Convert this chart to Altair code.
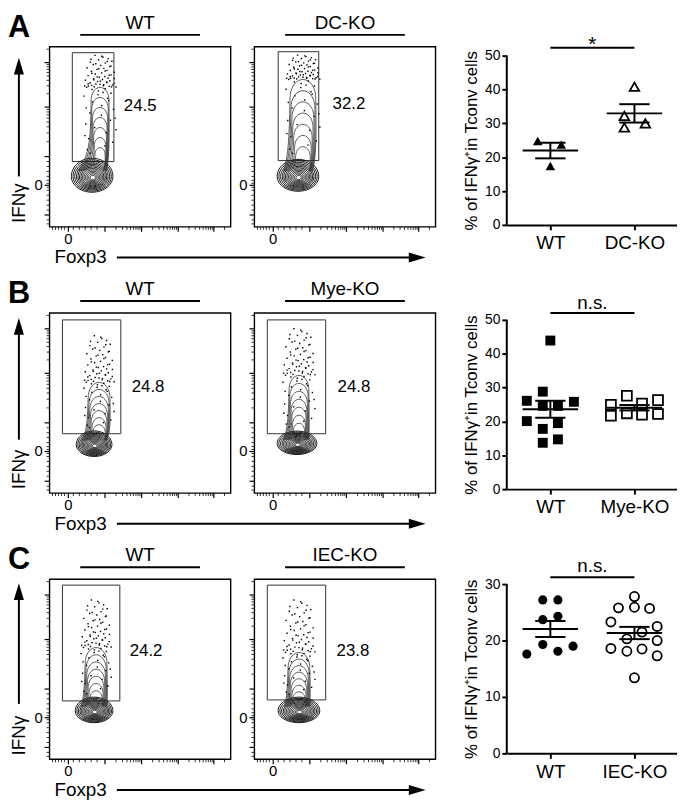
import numpy as np
import pandas as pd
import altair as alt

FONT = "Liberation Sans"

# ---------------- scatter data: % of IFNγ+ in Tconv cells ----------------
A_WT = [24.8, 23.7, 17.4]
A_KO = [40.8, 32.2, 28.8, 30.0]
B_WT = [43.9, 28.8, 26.1, 25.8, 24.6, 24.6, 20.1, 19.5, 17.8, 14.7, 13.7]
B_KO = [27.6, 24.9, 25.3, 26.3, 21.7, 22.4, 22.0, 22.2]
C_WT = [27.2, 27.2, 23.7, 24.3, 17.6, 19.3, 18.1, 19.0]
C_KO = [27.8, 25.8, 25.9, 25.7, 23.3, 22.5, 21.5, 20.3, 20.0, 18.6, 18.1, 18.5, 17.3, 13.4]
# horizontal scatter of the symbols inside each column (group-spacing units)
A_WT_J = [-0.15, 0.13, 0.0]
A_KO_J = [0.0, -0.12, -0.12, 0.13]
B_WT_J = [0.0, -0.09, -0.28, 0.28, -0.09, 0.09, -0.28, 0.09, -0.09, 0.09, -0.09]
B_KO_J = [-0.09, -0.28, 0.09, 0.28, -0.28, -0.09, 0.09, 0.28]
C_WT_J = [-0.09, 0.09, -0.09, 0.09, -0.28, -0.09, 0.09, 0.27]
C_KO_J = [0.0, -0.19, 0.0, 0.18, -0.28, 0.27, 0.09, -0.09, 0.27, -0.28, -0.09, 0.09, 0.27, 0.0]

# ---------------- flow cytometry panels (panel units, y from top) ----------------
PCT = ["24.5", "32.2", "24.8", "24.8", "24.2", "23.8"]
GATE_X1 = [23, 24, 13, 13, 13, 13]
GATE_X2 = [65, 65, 72, 72, 71, 72]
GATE_TOP = [6, 5, 7, 7, 6, 6]
GATE_BOT = [116, 115, 122, 122, 123, 122]
BLOB_CX = [43, 44, 45, 43, 45, 45]
BLOB_CY = [131, 131, 133, 132, 133, 133]
BLOB_RX = [21, 21, 18, 20, 19, 21]
BLOB_RY = [16, 15, 12, 11, 12, 12]
TAIL_X = [51, 49, 50, 45, 47, 45]
TAIL_TOP = [41, 33, 70, 63, 69, 74]
TAIL_W = [9, 13, 11, 10, 11, 11]
DOTS_TOP = [8, 8, 22, 15, 20, 20]
DOTS_SPREAD = [17, 18, 16, 17, 16, 17]
PCT_X = [75, 79, 83, 84, 81, 83]
PCT_Y = [60, 58, 75, 75, 73, 73]
BLOB_LEVELS = [1.0, 0.92, 0.84, 0.76, 0.69, 0.62, 0.55, 0.48, 0.41, 0.34, 0.27, 0.2, 0.13]
ARCH_LEVELS = [0.0, 0.13, 0.26, 0.39, 0.52, 0.65, 0.78]
DOT_U = [-0.35, 0.20, 0.55, -0.10, 0.80, -0.65, 0.35, -0.45, 0.05, 0.65, -0.85, 0.25, -0.20, 0.45,
         -0.55, 0.90, 0.10, -0.30, 0.70, -0.75, 0.30, -0.05, 0.50, -0.40, 0.15, -0.90, 0.60, -0.15,
         0.40, -0.60, 0.85, -0.25, 0.00, 0.75, -0.50, 0.20, -0.70, 0.55, -0.35, 0.95, -0.80, 0.30,
         -0.10, 0.65, -0.95, 0.45, -0.45, 0.10, 0.80, -0.60, 0.90, -0.85, 0.95, -0.90, 0.75, -0.75,
         0.12, -0.62, 0.48, -0.28, 0.72, -0.08, 0.33, -0.52, 0.58, -0.18, 0.88, -0.38, 0.02, 0.42,
         -0.72, 0.22, -0.92, 0.68, -0.48, 0.18, -0.12, 0.52, -0.82, 0.08, 0.62, -0.32, 0.38, -0.68,
         0.28, -0.58]
DOT_V = [0.98, 0.92, 0.88, 0.84, 0.80, 0.77, 0.74, 0.70, 0.67, 0.64, 0.60, 0.58, 0.55, 0.52,
         0.49, 0.46, 0.44, 0.41, 0.38, 0.36, 0.33, 0.31, 0.28, 0.26, 0.24, 0.22, 0.20, 0.18,
         0.16, 0.14, 0.12, 0.10, 0.09, 0.07, 0.06, 0.05, 0.04, 0.03, 0.02, 0.01, 0.00, -0.02,
         -0.05, -0.08, -0.12, -0.15, -0.20, -0.25, -0.30, -0.35, -0.42, -0.50, -0.58, -0.66, -0.75, -0.85,
         0.95, 0.86, 0.79, 0.72, 0.65, 0.57, 0.50, 0.43, 0.37, 0.32, 0.27, 0.23, 0.19, 0.15,
         0.11, 0.08, 0.045, 0.015, -0.03, -0.07, -0.10, -0.18, -0.28, -0.38, -0.45, -0.55, -0.62, -0.70,
         -0.80, -0.90]
Y_MAJOR = [16, 61, 111, 140, 170]
Y_LIN = [116, 121, 126, 131, 135, 138, 142, 145, 150, 155, 160, 165, 175, 179]
X_MAJOR = [19, 56, 93, 130, 166]
X_LIN = [3, 6, 9, 12, 15, 24, 30, 36, 42, 48]
ARROW_TIP = [11, 5, 4]
ARROW_BOT = [131, 128, 126]
SCATTER_DROP = [9, 7, 5]   # scatter axis top sits this far below the flow box top

W, H = 183, 182
KO_W = 231                 # KO flow cell is wider to leave the gap before the scatter
ONE = pd.DataFrame({"v": [0]})


def log_ticks(lo, hi):
    return [lo + (hi - lo) * np.log10(k) for k in range(2, 10)]


def flow(i, title, letter=None, row=0, width=W):
    xs = alt.Scale(domain=[0, width], nice=False, zero=False)
    ys = alt.Scale(domain=[0, H], nice=False, zero=False)

    def X(f):
        return alt.X(f, type="quantitative", scale=xs, axis=None)

    def Y(f):
        return alt.Y(f, type="quantitative", scale=ys, axis=None)

    layers = []
    box = pd.DataFrame({"x": [0], "x2": [W], "y": [0], "y2": [H]})
    layers.append(alt.Chart(box).mark_rect(fillOpacity=0, stroke="black", strokeWidth=1.4)
                  .encode(x=X("x"), x2="x2", y=Y("y"), y2="y2"))
    gate = pd.DataFrame({"x": [GATE_X1[i]], "x2": [GATE_X2[i]],
                         "y": [H - GATE_BOT[i]], "y2": [H - GATE_TOP[i]]})
    layers.append(alt.Chart(gate).mark_rect(fillOpacity=0, stroke="#333", strokeWidth=1)
                  .encode(x=X("x"), x2="x2", y=Y("y"), y2="y2"))

    # ---- contour lines: dense core ellipses + nested arches of the IFNγ+ tail
    core_rows, arch_rows = [], []
    cid = 0
    t = np.linspace(0, 2 * np.pi, 61)
    cx, cy, rx, ry = BLOB_CX[i], BLOB_CY[i], BLOB_RX[i], BLOB_RY[i]
    for s in BLOB_LEVELS:
        ex = cx + 0.8 * (1 - s)
        ey = cy + 1.5 * (1 - s)
        for k, tt in enumerate(t):
            sn = np.sin(tt)
            yy = ey + s * ry * (1.15 if sn < 0 else 1.0) * sn
            core_rows.append((cid, k, ex + s * rx * np.cos(tt), H - yy))
        cid += 1
    blob_top = cy - ry
    base = cy - 0.35 * ry
    tx = TAIL_X[i]
    for f in ARCH_LEVELS:
        top = TAIL_TOP[i] + f * (blob_top + 4 - TAIL_TOP[i])
        w = TAIL_W[i] * (1 - 0.55 * f)
        cap = min(1.4 * w, (base - top) / 2)
        spread = 0.7 * rx * (1 - 0.4 * f)
        flare = base - 0.25 * (base - top - cap)
        pts = [(cx - spread, base), (tx - w * 1.1, flare), (tx - w, top + cap)]
        for a in np.linspace(np.pi, 0, 19)[1:-1]:
            pts.append((tx + w * np.cos(a), top + cap - cap * np.sin(a)))
        pts += [(tx + w, top + cap), (tx + w * 1.05, flare), (min(cx + spread, tx + w), base)]
        for k, (px, py) in enumerate(pts):
            arch_rows.append((cid, k, px, H - py))
        cid += 1
    core_df = pd.DataFrame(core_rows, columns=["cid", "k", "fx", "fy"])
    arch_df = pd.DataFrame(arch_rows, columns=["cid", "k", "fx", "fy"])
    layers.append(alt.Chart(core_df).mark_line(strokeWidth=1.0, color="#111")
                  .encode(x=X("fx"), y=Y("fy"), detail="cid:N", order="k:Q"))
    layers.append(alt.Chart(arch_df).mark_line(strokeWidth=0.8, color="#333", interpolate="basis")
                  .encode(x=X("fx"), y=Y("fy"), detail="cid:N", order="k:Q"))

    # ---- individual events above the contours
    dx, dy = [], []
    for u, v in zip(DOT_U, DOT_V):
        if v >= 0:
            yy = TAIL_TOP[i] - v * (TAIL_TOP[i] - DOTS_TOP[i])
            xx = tx + u * DOTS_SPREAD[i] * (1 - 0.15 * v)
        else:
            yy = TAIL_TOP[i] + (-v) * (blob_top - TAIL_TOP[i])
            xx = tx + u * DOTS_SPREAD[i]
        dx.append(xx)
        dy.append(H - yy)
    ddf = pd.DataFrame({"dx": dx, "dy": dy})
    layers.append(alt.Chart(ddf).mark_square(size=2, color="black", opacity=1)
                  .encode(x=X("dx"), y=Y("dy")))

    pdf = pd.DataFrame({"tx": [PCT_X[i]], "ty": [H - PCT_Y[i]], "label": [PCT[i]]})
    layers.append(alt.Chart(pdf).mark_text(align="left", baseline="middle", fontSize=17,
                                           font=FONT, color="black")
                  .encode(x=X("tx"), y=Y("ty"), text="label:N"))

    ymin = log_ticks(61, 16) + log_ticks(111, 61) + [16 - 45 * np.log10(2)] + Y_LIN
    xmin = log_ticks(56, 93) + log_ticks(93, 130) + log_ticks(130, 166) + X_LIN + [166 + 36 * np.log10(2)]
    ymaj = pd.DataFrame({"ty": [H - v for v in Y_MAJOR]})
    ymn = pd.DataFrame({"ty": [H - v for v in ymin]})
    xmaj = pd.DataFrame({"tx": X_MAJOR})
    xmn = pd.DataFrame({"tx": xmin})
    layers.append(alt.Chart(ymaj).mark_rule(strokeWidth=1.2, color="black")
                  .encode(y=Y("ty"), x=alt.value(-5), x2=alt.value(0)))
    layers.append(alt.Chart(ymn).mark_rule(strokeWidth=0.8, color="black")
                  .encode(y=Y("ty"), x=alt.value(-3), x2=alt.value(0)))
    layers.append(alt.Chart(xmaj).mark_rule(strokeWidth=1.2, color="black")
                  .encode(x=X("tx"), y=alt.value(H), y2=alt.value(H + 5)))
    layers.append(alt.Chart(xmn).mark_rule(strokeWidth=0.8, color="black")
                  .encode(x=X("tx"), y=alt.value(H), y2=alt.value(H + 3)))
    zy = pd.DataFrame({"ty": [H - 140], "t": ["0"]})
    layers.append(alt.Chart(zy).mark_text(align="right", baseline="middle", fontSize=15,
                                          font=FONT, color="black")
                  .encode(y=Y("ty"), x=alt.value(-7), text="t:N"))
    zx = pd.DataFrame({"tx": [19], "t": ["0"]})
    layers.append(alt.Chart(zx).mark_text(align="center", baseline="middle", fontSize=15,
                                          font=FONT, color="black")
                  .encode(x=X("tx"), y=alt.value(194), text="t:N"))

    layers.append(alt.Chart(ONE).mark_text(text=title, align="center", baseline="middle",
                                           fontSize=19, font=FONT, color="black")
                  .encode(x=alt.value(91.5), y=alt.value(-24)))
    layers.append(alt.Chart(ONE).mark_rule(strokeWidth=2, color="black")
                  .encode(x=alt.value(31), x2=alt.value(152), y=alt.value(-12)))

    if letter is not None:
        layers.append(alt.Chart(ONE).mark_text(text=letter, align="left", baseline="top",
                                               fontSize=31, fontWeight="bold", font=FONT,
                                               color="black")
                      .encode(x=alt.value(-42), y=alt.value(-34)))
        layers.append(alt.Chart(ONE).mark_text(text="IFNγ", align="center", baseline="middle",
                                               angle=270, fontSize=19, font=FONT, color="black")
                      .encode(x=alt.value(-31), y=alt.value(158)))
        tip = ARROW_TIP[row]
        layers.append(alt.Chart(ONE).mark_rule(strokeWidth=2, color="black")
                      .encode(x=alt.value(-31), y=alt.value(tip + 14), y2=alt.value(ARROW_BOT[row])))
        layers.append(alt.Chart(ONE).mark_point(shape="M-0.6,1L0,-1L0.6,1Z", filled=True,
                                                size=289, color="black", opacity=1)
                      .encode(x=alt.value(-31), y=alt.value(tip + 8.5)))
        layers.append(alt.Chart(ONE).mark_text(text="Foxp3", align="left", baseline="middle",
                                               fontSize=19, font=FONT, color="black")
                      .encode(x=alt.value(5), y=alt.value(213)))
        layers.append(alt.Chart(ONE).mark_rule(strokeWidth=2, color="black")
                      .encode(x=alt.value(68), x2=alt.value(366), y=alt.value(213)))
        layers.append(alt.Chart(ONE).mark_point(shape="M-1,-0.6L1,0L-1,0.6Z", filled=True,
                                                size=289, color="black", opacity=1)
                      .encode(x=alt.value(371.5), y=alt.value(213)))
    return alt.layer(*layers).properties(width=width, height=H)


def scatter(wt, wt_j, ko, ko_j, ko_label, shape, size, ymax, drop, sig, sig_y, sig_ty, sig_fs):
    ph = 171
    top = ymax * (drop + ph) / ph
    xs = alt.Scale(domain=[0.482, 2.506], nice=False, zero=False)
    ys = alt.Scale(domain=[0, top], nice=False, zero=True)
    xaxis = alt.Axis(values=[1, 2], labelExpr=f"datum.value == 1 ? 'WT' : '{ko_label}'",
                     title=None, grid=False, domainWidth=2, domainColor="black",
                     tickColor="black", tickWidth=2, tickSize=5, labelFontSize=19,
                     labelColor="black", labelFont=FONT, labelPadding=4, labelAngle=0)
    yaxis = alt.Axis(values=list(range(0, ymax + 1, 10)), title="% of IFNγ⁺in Tconv cells",
                     grid=False, domain=False, tickColor="black",
                     tickWidth=2, tickSize=5, labelFontSize=14, labelColor="black",
                     labelFont=FONT, labelPadding=2, titleFont=FONT, titleFontSize=17,
                     titleFontWeight="normal", titleColor="black", titlePadding=4,
                     titleY=drop + ph / 2)

    def X(f):
        return alt.X(f, type="quantitative", scale=xs, axis=xaxis)

    def Y(f):
        return alt.Y(f, type="quantitative", scale=ys, axis=yaxis)

    wdf = pd.DataFrame({"pos": [1 + j for j in wt_j], "val": wt})
    kdf = pd.DataFrame({"pos": [2 + j for j in ko_j], "val": ko})
    layers = [
        alt.Chart(wdf).mark_point(shape=shape, filled=True, size=size, color="black", opacity=1)
        .encode(x=X("pos"), y=Y("val")),
        alt.Chart(kdf).mark_point(shape=shape, filled=False, size=size, color="black",
                                  strokeWidth=1.8, opacity=1)
        .encode(x=X("pos"), y=Y("val")),
    ]
    ydom = pd.DataFrame({"val": [0], "y1": [ymax]})
    layers.append(alt.Chart(ydom).mark_rule(strokeWidth=2, color="black")
                  .encode(x=alt.value(0), y=Y("val"), y2="y1:Q"))
    stats = []
    for g, vals in ((1, wt), (2, ko)):
        a = np.array(vals)
        m = a.mean()
        se = a.std(ddof=1) / np.sqrt(len(a))
        stats.append((g, m, m - se, m + se))
    sdf = pd.DataFrame(stats, columns=["pos", "val", "lo", "hi"])
    sdf["mx1"] = sdf["pos"] - 0.33
    sdf["mx2"] = sdf["pos"] + 0.33
    sdf["cx1"] = sdf["pos"] - 0.18
    sdf["cx2"] = sdf["pos"] + 0.18
    caps = pd.concat([sdf.assign(cy=sdf["lo"]), sdf.assign(cy=sdf["hi"])])
    layers.append(alt.Chart(sdf).transform_calculate(pos="datum.mx1")
                  .mark_rule(strokeWidth=2, color="black")
                  .encode(x=X("pos"), x2="mx2:Q", y=Y("val")))
    layers.append(alt.Chart(caps).transform_calculate(pos="datum.cx1", val="datum.cy")
                  .mark_rule(strokeWidth=2, color="black")
                  .encode(x=X("pos"), x2="cx2:Q", y=Y("val")))
    layers.append(alt.Chart(sdf).transform_calculate(val="datum.lo")
                  .mark_rule(strokeWidth=2, color="black")
                  .encode(x=X("pos"), y=Y("val"), y2="hi:Q"))
    bdf = pd.DataFrame({"pos": [1], "x2": [2], "xm": [1.5], "t": [sig]})
    layers.append(alt.Chart(bdf).mark_rule(strokeWidth=2, color="black")
                  .encode(x=X("pos"), x2="x2:Q", y=alt.value(drop + sig_y)))
    layers.append(alt.Chart(bdf).transform_calculate(pos="datum.xm")
                  .mark_text(align="center", baseline="alphabetic", fontSize=sig_fs, font=FONT,
                             color="black")
                  .encode(x=X("pos"), y=alt.value(drop + sig_ty), text="t:N"))
    return alt.layer(*layers).properties(width=172, height=drop + ph)


cells = [
    flow(0, "WT", "A", 0), flow(1, "DC-KO", width=KO_W),
    scatter(A_WT, A_WT_J, A_KO, A_KO_J, "DC-KO", "triangle-up", 95, 50, SCATTER_DROP[0], "*", -8, -5, 21),
    flow(2, "WT", "B", 1), flow(3, "Mye-KO", width=KO_W),
    scatter(B_WT, B_WT_J, B_KO, B_KO_J, "Mye-KO", "square", 100, 50, SCATTER_DROP[1], "n.s.", -7, -11, 19),
    flow(4, "WT", "C", 2), flow(5, "IEC-KO", width=KO_W),
    scatter(C_WT, C_WT_J, C_KO, C_KO_J, "IEC-KO", "circle", 85, 30, SCATTER_DROP[2], "n.s.", -7, -12, 19),
]

chart = (alt.concat(*cells, columns=3, spacing={"row": 87, "column": 24}, bounds="flush")
         .resolve_scale(x="independent", y="independent")
         .properties(padding=0, background="white")
         .configure(font=FONT)
         .configure_view(stroke="transparent", strokeWidth=0))

chart.save("out.html", embed_options={"renderer": "svg", "actions": False})
